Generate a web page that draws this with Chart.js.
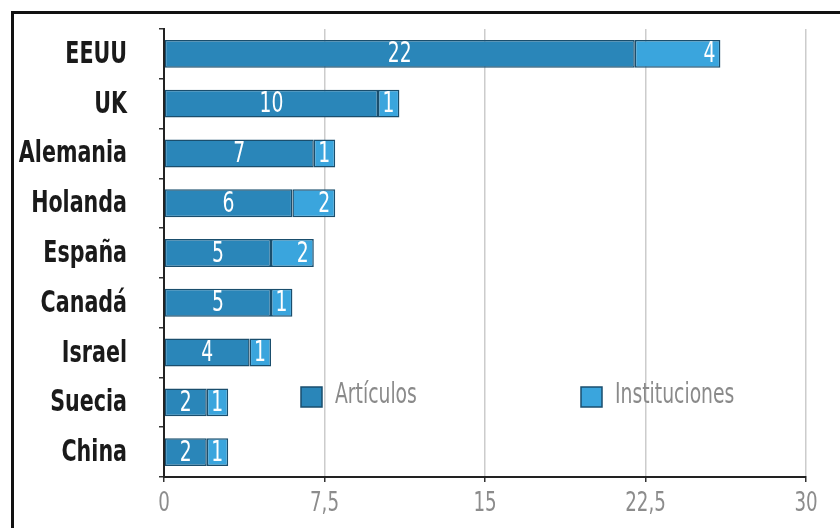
<!DOCTYPE html>
<html>
<head>
<meta charset="utf-8">
<script src="https://cdn.jsdelivr.net/npm/chart.js@4.4.1/dist/chart.umd.min.js"></script>
<style>
  html, body { margin:0; padding:0; background:#fff; overflow:hidden; }
  #wrap { position:relative; width:840px; height:528px; overflow:hidden; }
  #frame { position:absolute; left:11px; top:11px; width:826px; height:520px;
           border-left:3px solid #111; border-top:3px solid #111; }
  #chart { position:absolute; left:0; top:0; }
</style>
</head>
<body>
<div id="wrap">
  <div id="frame"></div>
  <canvas id="chart" width="840" height="528"></canvas>
</div>
<script>
// DATA
const countries = ['EEUU','UK','Alemania','Holanda','España','Canadá','Israel','Suecia','China'];
const articulos = [22,10,7,6,5,5,4,2,2];
const instituciones = [4,1,1,2,2,1,1,1,1];
const seriesNames = ['Artículos','Instituciones'];
const xTicks = [0,7.5,15,22.5,30];

const FONT = "'DejaVu Sans Condensed','DejaVu Sans',sans-serif";
const colArt = '#2a86b9';
const colInst = '#3aa5dd';
const colEdge = '#1a4e6d';

// condensed text: the original uses a narrow DIN-like face
function narrowText(ctx, txt, x, y, align, sx){
  ctx.save();
  ctx.translate(x, y);
  ctx.scale(sx, 1);
  ctx.textAlign = align;
  ctx.fillText(txt, 0, 0);
  ctx.restore();
}

// AXIS LABELS (drawn at the scales' own tick positions)
const axisLabels = {
  id:'axisLabels',
  afterDraw(chart){
    const ctx = chart.ctx;
    const xs = chart.scales.x, ys = chart.scales.y;
    ctx.save();
    ctx.textBaseline = 'middle';
    ctx.fillStyle = '#1a1a1a';
    ctx.font = 'bold 31px ' + FONT;
    chart.data.labels.forEach((lab,i)=>{
      narrowText(ctx, lab, 127, ys.getPixelForTick(i)+1, 'right', 0.74);
    });
    ctx.fillStyle = '#8c8c8c';
    ctx.font = '26px ' + FONT;
    xTicks.forEach(v=>{
      narrowText(ctx, String(v).replace('.',','), xs.getPixelForValue(v), 504, 'center', 0.78);
    });
    ctx.restore();
  }
};

// BAR LABELS (white numbers inside the bars)
const barLabels = {
  id:'barLabels',
  afterDatasetsDraw(chart){
    const ctx = chart.ctx;
    ctx.save();
    ctx.fillStyle = '#fff';
    ctx.font = '29px ' + FONT;
    ctx.textBaseline = 'middle';
    chart.data.datasets.forEach((ds,di)=>{
      const meta = chart.getDatasetMeta(di);
      meta.data.forEach((bar,i)=>{
        const p = bar.getProps(['x','y','base'],true);
        if(di===0) narrowText(ctx, String(ds.data[i]), (p.x+p.base)/2, p.y+1, 'center', 0.72);
        else narrowText(ctx, String(ds.data[i]), p.x-5, p.y+1, 'right', 0.72);
      });
    });
    ctx.restore();
  }
};

// LEGEND inside the plot
const innerLegend = {
  id:'innerLegend',
  afterDraw(chart){
    const ctx = chart.ctx;
    const pos = [301,581];
    const y = 397;
    ctx.save();
    ctx.font = '29px ' + FONT;
    ctx.textBaseline = 'middle';
    chart.data.datasets.forEach((ds,di)=>{
      const x = pos[di];
      ctx.fillStyle = ds.backgroundColor;
      ctx.fillRect(x, y-10, 21, 20);
      ctx.strokeStyle = colEdge;
      ctx.lineWidth = 1.5;
      ctx.strokeRect(x, y-10, 21, 20);
      ctx.fillStyle = '#8a8a8a';
      narrowText(ctx, ds.label, x+34, y-2, 'left', 0.72);
    });
    ctx.restore();
  }
};

new Chart(document.getElementById('chart'),{
  type:'bar',
  data:{
    labels:countries,
    datasets:[
      {label:seriesNames[0],data:articulos,backgroundColor:colArt,borderColor:colEdge,borderWidth:1.5,borderSkipped:false},
      {label:seriesNames[1],data:instituciones,backgroundColor:colInst,borderColor:colEdge,borderWidth:1.5,borderSkipped:false}
    ]
  },
  options:{
    indexAxis:'y',
    responsive:false,
    animation:false,
    barPercentage:0.56,
    categoryPercentage:1,
    layout:{padding:{left:0,top:29,right:34,bottom:0}},
    plugins:{legend:{display:false},tooltip:{enabled:false}},
    scales:{
      x:{
        stacked:true,min:0,max:30,
        afterBuildTicks(scale){ scale.ticks = xTicks.map(v=>({value:v})); },
        afterFit(scale){ scale.height = 51; },
        ticks:{display:false},
        grid:{color:'#cccccc',lineWidth:1.5,tickColor:'#333',tickLength:5},
        border:{color:'#222',width:2}
      },
      y:{
        stacked:true,
        afterFit(scale){ scale.width = 164; },
        ticks:{display:false},
        grid:{offset:true,drawOnChartArea:false,tickColor:'#333',tickLength:5,lineWidth:1.5},
        border:{color:'#222',width:2}
      }
    }
  },
  plugins:[barLabels,axisLabels,innerLegend]
});
</script>
</body>
</html>
